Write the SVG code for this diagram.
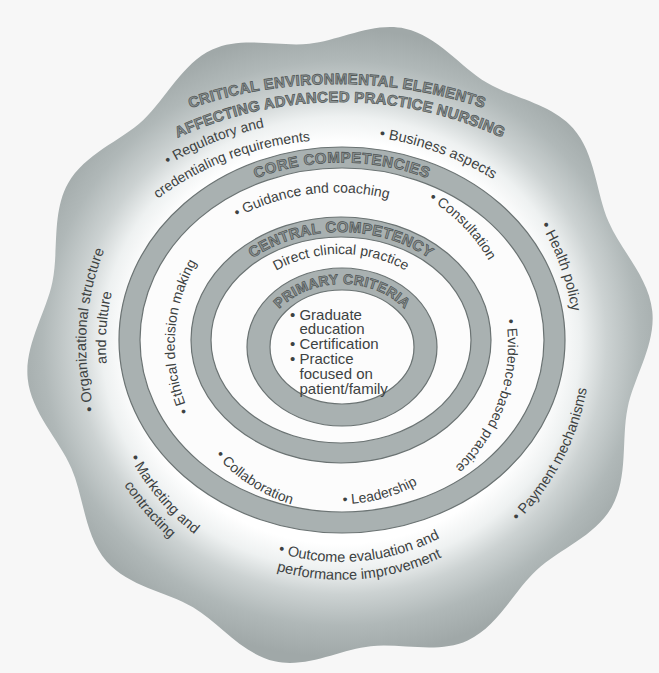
<svg xmlns="http://www.w3.org/2000/svg" width="659" height="673" viewBox="0 0 659 673">
<defs>
<radialGradient id="glow" gradientUnits="userSpaceOnUse" cx="0" cy="0" r="1" gradientTransform="translate(341 343) scale(332 305)">
<stop offset="0" stop-color="#ffffff"/>
<stop offset="0.64" stop-color="#ffffff"/>
<stop offset="0.72" stop-color="#eef1f1"/>
<stop offset="0.80" stop-color="#ccd2d2"/>
<stop offset="0.90" stop-color="#b0b8b8"/>
<stop offset="1" stop-color="#a0a8a8"/>
</radialGradient>
<path id="p-title1" d="M108.5,145.2 A457,457 0 0 1 565.5,145.2"/>
<path id="p-title2" d="M91.9,192.3 A386,386 0 0 1 588.1,192.3"/>
<path id="p-core" d="M134.5,340 A207.5,177.5 0 0 1 549.5,340"/>
<path id="p-central" d="M206,340 A135,108 0 0 1 476,340"/>
<path id="p-primary" d="M263.5,347 A78.5,63 0 0 1 420.5,347"/>
<path id="p-direct" d="M228,346 A113,92 0 0 1 454,346"/>
<path id="p-guid" d="M196.1,246.3 A210,210 0 0 1 435.2,217"/>
<path id="p-cons" d="M299,180.3 A170,170 0 0 1 504.7,391"/>
<path id="p-evid" d="M467.2,235.7 A167,167 0 0 1 372.6,509"/>
<path id="p-ethi" d="M250.5,484.4 A166.2,166.2 0 0 1 265.5,196.9"/>
<path id="p-lead" d="M228,456.8 A159,159 0 0 0 494.4,387"/>
<path id="p-coll" d="M174.2,336.3 A167,167 0 0 0 416.8,493.8"/>
<path id="p-bus" d="M309.5,135.7 A300,300 0 0 1 547.8,222.5"/>
<path id="p-health" d="M382.9,115.9 A232.9,232.9 0 0 1 518.5,495.8"/>
<path id="p-pay" d="M351.9,594.5 A249.7,249.7 0 0 0 551.6,210.8"/>
<path id="p-out1" d="M163.6,469.9 A216.9,216.9 0 0 0 537.8,436.1"/>
<path id="p-out2" d="M148.1,478.8 A234.8,234.8 0 0 0 553.4,445.2"/>
<path id="p-mkt1" d="M116,263.8 A239.2,239.2 0 0 0 383.2,580.4"/>
<path id="p-mkt2" d="M97.3,259.7 A258.2,258.2 0 0 0 388.9,598.7"/>
<path id="p-org1" d="M200.3,557.6 A255,255 0 0 1 227.2,116.8"/>
<path id="p-org2" d="M208.9,539.4 A235,235 0 0 1 238.7,133.4"/>
<path id="p-reg1" d="M106.8,214.5 A300,300 0 0 1 342.9,122"/>
<path id="p-reg2" d="M103.9,249.9 A300,300 0 0 1 384.5,143.8"/>
</defs>
<style>
.lbl{font-family:"Liberation Sans",Arial,Helvetica,sans-serif;fill:#3d4242;}
.g2{font-size:14px;}
.env{font-size:14.5px;}
.reg{font-size:14px;}
.list{font-size:15px;}
.band{font-family:"Liberation Sans",Arial,Helvetica,sans-serif;font-weight:bold;fill:#8d9494;stroke:#4d5353;stroke-width:0.7px;}
.ring{fill:#a9b1b1;stroke:#6b7373;stroke-width:1.2;}
.hole{fill:#fcfcfc;stroke:#6b7373;stroke-width:1.2;}
</style>
<rect x="0" y="0" width="659" height="673" fill="#f7f7f7"/>
<g id="environment">
<path id="blob" fill="url(#glow)" transform="translate(340 345) scale(1 1.03) translate(-340 -345)" d="M405.3,37.9 C437.6,44.8 460.2,74.9 487,90.4 C513.8,105.9 551.2,110.4 573.3,134.9 C595.4,159.4 596,197.1 608.6,225.4 C621.2,253.7 648.9,279.4 652.3,312.2 C655.7,345 634,375.8 627.6,406.1 C621.2,436.4 628.4,473.4 611.9,502 C595.4,530.6 559.7,542.8 536.7,563.5 C513.7,584.2 497.8,618.4 467.7,631.8 C437.6,645.2 401.5,634.2 370.7,637.4 C339.9,640.6 307,659 274.7,652.1 C242.4,645.2 219.8,615.1 193,599.6 C166.2,584.1 128.8,579.6 106.7,555.1 C84.6,530.6 84,492.9 71.4,464.6 C58.8,436.3 31.1,410.6 27.7,377.8 C24.3,345 46,314.2 52.4,283.9 C58.8,253.6 51.6,216.6 68.1,188 C84.6,159.4 120.3,147.2 143.3,126.5 C166.3,105.8 182.2,71.6 212.3,58.2 C242.4,44.8 278.5,55.8 309.3,52.6 C340.1,49.4 373,31 405.3,37.9 Z"/>
<text class="band" font-size="15" letter-spacing="0.3" text-anchor="middle"><textPath href="#p-title1" startOffset="50%">CRITICAL ENVIRONMENTAL ELEMENTS</textPath></text>
<text class="band" font-size="15" letter-spacing="0.2" text-anchor="middle"><textPath href="#p-title2" startOffset="50%">AFFECTING ADVANCED PRACTICE NURSING</textPath></text>
<text class="lbl reg" text-anchor="middle"><textPath href="#p-reg1" startOffset="50%">• Regulatory and</textPath></text>
<text class="lbl reg" text-anchor="middle"><textPath href="#p-reg2" startOffset="50%">credentialing requirements</textPath></text>
<text class="lbl env" text-anchor="middle"><textPath href="#p-bus" startOffset="50%">• Business aspects</textPath></text>
<text class="lbl env" text-anchor="middle"><textPath href="#p-health" startOffset="50%">• Health policy</textPath></text>
<text class="lbl env" text-anchor="middle"><textPath href="#p-pay" startOffset="50%">• Payment mechanisms</textPath></text>
<text class="lbl env" text-anchor="middle"><textPath href="#p-out1" startOffset="50%">• Outcome evaluation and</textPath></text>
<text class="lbl env" text-anchor="middle"><textPath href="#p-out2" startOffset="50%">performance improvement</textPath></text>
<text class="lbl env" text-anchor="middle"><textPath href="#p-mkt1" startOffset="50%">• Marketing and</textPath></text>
<text class="lbl env" text-anchor="middle"><textPath href="#p-mkt2" startOffset="50%">contracting</textPath></text>
<text class="lbl env" text-anchor="middle"><textPath href="#p-org1" startOffset="50%">• Organizational structure</textPath></text>
<text class="lbl env" text-anchor="middle"><textPath href="#p-org2" startOffset="50%">and culture</textPath></text>
</g>
<g id="core-competencies">
<ellipse class="ring" cx="342" cy="340" rx="223" ry="193"/>
<ellipse class="hole" cx="342" cy="340" rx="202" ry="172"/>
<text class="band" font-size="15" letter-spacing="0.5" text-anchor="middle"><textPath href="#p-core" startOffset="50%">CORE COMPETENCIES</textPath></text>
<text class="lbl g2" text-anchor="middle"><textPath href="#p-guid" startOffset="50%">• Guidance and coaching</textPath></text>
<text class="lbl g2" text-anchor="middle"><textPath href="#p-cons" startOffset="50%">• Consultation</textPath></text>
<text class="lbl g2" text-anchor="middle"><textPath href="#p-evid" startOffset="50%">• Evidence-based practice</textPath></text>
<text class="lbl g2" text-anchor="middle"><textPath href="#p-lead" startOffset="50%">• Leadership</textPath></text>
<text class="lbl g2" text-anchor="middle"><textPath href="#p-coll" startOffset="50%">• Collaboration</textPath></text>
<text class="lbl g2" text-anchor="middle"><textPath href="#p-ethi" startOffset="50%">• Ethical decision making</textPath></text>
</g>
<g id="central-competency">
<ellipse class="ring" cx="341" cy="340" rx="150" ry="123"/>
<ellipse class="hole" cx="341" cy="340" rx="130" ry="103"/>
<text class="band" font-size="15" letter-spacing="0.3" text-anchor="middle"><textPath href="#p-central" startOffset="50%">CENTRAL COMPETENCY</textPath></text>
<text class="lbl g2" text-anchor="middle"><textPath href="#p-direct" startOffset="50%">Direct clinical practice</textPath></text>
</g>
<g id="primary-criteria">
<ellipse class="ring" cx="342" cy="347" rx="95" ry="79"/>
<ellipse class="hole" cx="342" cy="347" rx="72" ry="57"/>
<text class="band" font-size="14" letter-spacing="0.3" text-anchor="middle"><textPath href="#p-primary" startOffset="50%">PRIMARY CRITERIA</textPath></text>
<text class="lbl list" x="290" y="319.5">• Graduate</text>
<text class="lbl list" x="299.5" y="334.3">education</text>
<text class="lbl list" x="290" y="349.1">• Certification</text>
<text class="lbl list" x="290" y="363.9">• Practice</text>
<text class="lbl list" x="299.5" y="378.7">focused on</text>
<text class="lbl list" x="299.5" y="393.5">patient/family</text>
</g>
</svg>
